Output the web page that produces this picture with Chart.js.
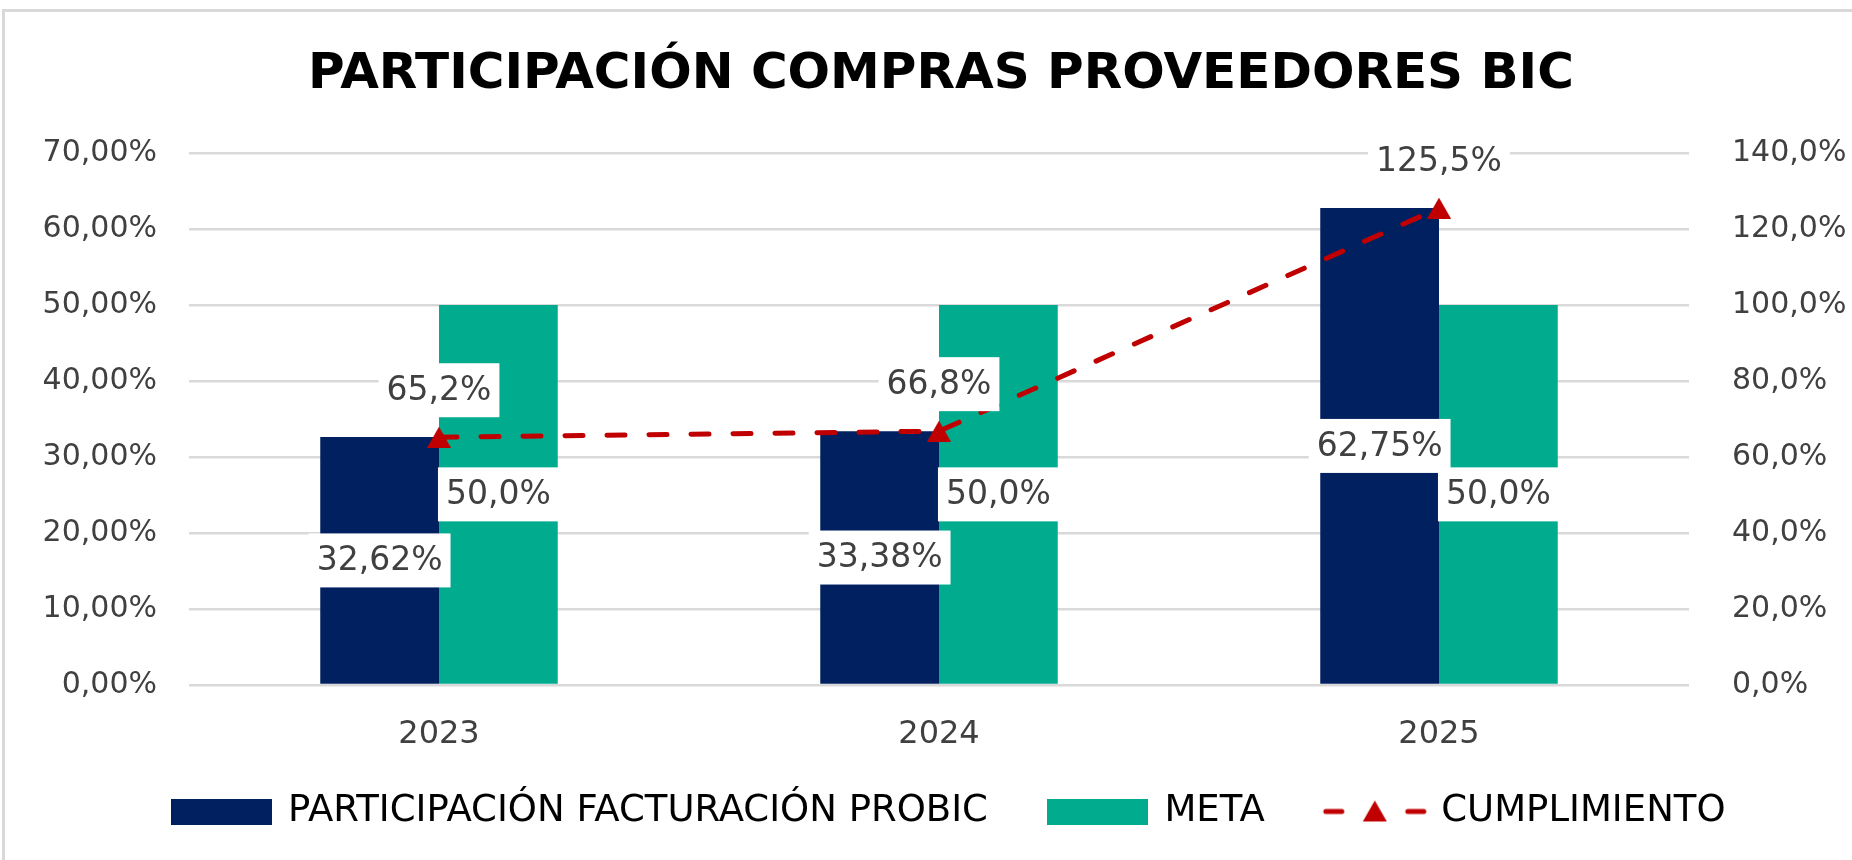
<!DOCTYPE html>
<html>
<head>
<meta charset="utf-8">
<script src="https://cdn.jsdelivr.net/npm/chart.js@4.4.0/dist/chart.umd.min.js"></script>
<style>
  html, body { margin: 0; padding: 0; background: #fff; overflow: hidden; }
  #frame { position: absolute; left: 2px; top: 9px; width: 1900px; height: 900px;
           border-top: 3px solid #d9d9d9; border-left: 3px solid #d9d9d9; }
  #wrap { position: absolute; left: 0; top: 0; width: 1852px; height: 860px; }
</style>
</head>
<body>
<div id="frame"></div>
<div id="wrap"><canvas id="chart"></canvas></div>
<script>
// data
const years = ['2023', '2024', '2025'];
const participacion = [32.62, 33.38, 62.75];   // % left axis
const meta = [50.0, 50.0, 50.0];               // % left axis
const cumplimiento = [65.2, 66.8, 125.5];      // % right axis
const leftTicks = [0, 10, 20, 30, 40, 50, 60, 70];
const rightTicks = [0, 20, 40, 60, 80, 100, 120, 140];

const NAVY = '#002060';
const TEAL = '#00AB8E';
const RED = '#C00000';
const TEXT = '#404040';

Chart.defaults.font.family = '"DejaVu Sans", sans-serif';

const fmt = (v, d) => v.toFixed(d).replace('.', ',') + '%';

function triangle(w, h, color) {
  const c = document.createElement('canvas');
  c.width = w; c.height = h;
  const g = c.getContext('2d');
  g.fillStyle = color;
  g.beginPath();
  g.moveTo(w / 2, 0); g.lineTo(w, h); g.lineTo(0, h);
  g.closePath(); g.fill();
  return c;
}

function swatch(w, h, color) {
  const c = document.createElement('canvas');
  c.width = w; c.height = h;
  const g = c.getContext('2d');
  g.fillStyle = color;
  g.fillRect(0, 0, w, h);
  return c;
}

function lineSwatch(w, h) {
  const c = document.createElement('canvas');
  c.width = w; c.height = h;
  const g = c.getContext('2d');
  g.strokeStyle = RED; g.lineWidth = 5; g.lineCap = 'round';
  g.beginPath();
  g.moveTo(5, h / 2); g.lineTo(21, h / 2);
  g.moveTo(w - 21, h / 2); g.lineTo(w - 5, h / 2);
  g.stroke();
  g.drawImage(triangle(24, 21, RED), w / 2 - 12, h / 2 - 11);
  return c;
}

const pointImg = triangle(24, 21, RED);
const legendImgs = [swatch(101, 26, NAVY), swatch(101, 26, TEAL), lineSwatch(108, 26)];

// white-boxed data labels, drawn after the datasets
const boxLabels = {
  id: 'boxLabels',
  afterDatasetsDraw(chart) {
    const ctx = chart.ctx;
    ctx.save();
    ctx.font = '33px "DejaVu Sans"';
    ctx.textAlign = 'center';
    ctx.textBaseline = 'middle';
    chart.data.datasets.forEach((ds, di) => {
      const m = chart.getDatasetMeta(di);
      m.data.forEach((el, i) => {
        const text = fmt(ds.data[i], ds.decimals);
        const y = m.type === 'bar' ? (el.y + el.base) / 2 : el.y - 47;
        const w = ctx.measureText(text).width + 16;
        const h = 54;
        ctx.fillStyle = '#fff';
        ctx.fillRect(el.x - w / 2, y - h / 2, w, h);
        ctx.fillStyle = TEXT;
        ctx.fillText(text, el.x, y + 1);
      });
    });
    ctx.restore();
  }
};

// the original centres title and legend a bit right of the canvas middle
const nudge = {
  id: 'nudge',
  afterLayout(chart) {
    const lg = chart.legend;
    lg.left += 47;
    lg.top -= 18;
    lg.bottom -= 18;
    chart.titleBlock.left += 30;
  }
};

new Chart(document.getElementById('chart'), {
  data: {
    labels: years,
    datasets: [
      {
        type: 'line',
        label: 'CUMPLIMIENTO',
        data: cumplimiento,
        decimals: 1,
        yAxisID: 'y2',
        order: 0,
        borderColor: RED,
        borderWidth: 5,
        borderDash: [18, 24],
        borderCapStyle: 'round',
        pointStyle: pointImg,
        pointRadius: 12,
        fill: false,
        tension: 0
      },
      {
        type: 'bar',
        label: 'PARTICIPACIÓN FACTURACIÓN PROBIC',
        data: participacion,
        decimals: 2,
        yAxisID: 'y',
        order: 1,
        backgroundColor: NAVY,
        barPercentage: 1,
        categoryPercentage: 0.475
      },
      {
        type: 'bar',
        label: 'META',
        data: meta,
        decimals: 1,
        yAxisID: 'y',
        order: 1,
        backgroundColor: TEAL,
        barPercentage: 1,
        categoryPercentage: 0.475
      }
    ]
  },
  options: {
    responsive: true,
    maintainAspectRatio: false,
    animation: false,
    layout: { padding: { top: 10, left: 0, right: 0, bottom: 2 } },
    plugins: {
      title: {
        display: true,
        text: 'PARTICIPACIÓN COMPRAS PROVEEDORES BIC',
        color: '#000',
        font: { size: 50, weight: 'bold' },
        padding: { top: 35, bottom: 48 }
      },
      legend: {
        position: 'bottom',
        labels: {
          usePointStyle: true,
          pointStyleWidth: 96,
          boxHeight: 26,
          padding: 62,
          color: TEXT,
          font: { size: 37 },
          generateLabels: () => [
            { text: 'PARTICIPACIÓN FACTURACIÓN PROBIC', pointStyle: legendImgs[0], datasetIndex: 1, lineWidth: 0, hidden: false },
            { text: 'META', pointStyle: legendImgs[1], datasetIndex: 2, lineWidth: 0, hidden: false },
            { text: 'CUMPLIMIENTO', pointStyle: legendImgs[2], datasetIndex: 0, lineWidth: 0, hidden: false }
          ]
        }
      },
      tooltip: { enabled: false }
    },
    scales: {
      x: {
        grid: { display: false, drawTicks: false },
        border: { display: false },
        ticks: { color: TEXT, font: { size: 32 }, padding: 30 },
        afterFit(s) { s.height = 64; }
      },
      y: {
        position: 'left',
        min: 0,
        max: 70,
        afterBuildTicks(s) { s.ticks = leftTicks.map(v => ({ value: v })); },
        grid: { color: '#d9d9d9', lineWidth: 2.5, drawTicks: false },
        border: { display: false },
        ticks: { color: TEXT, font: { size: 30 }, padding: 32, callback: v => fmt(v, 2) },
        afterFit(s) { s.width = 189; }
      },
      y2: {
        position: 'right',
        min: 0,
        max: 140,
        afterBuildTicks(s) { s.ticks = rightTicks.map(v => ({ value: v })); },
        grid: { display: false, drawTicks: false },
        border: { display: false },
        ticks: { color: TEXT, font: { size: 30 }, padding: 43, callback: v => fmt(v, 1) },
        afterFit(s) { s.width = 163; }
      }
    }
  },
  plugins: [boxLabels, nudge]
});
</script>
</body>
</html>
